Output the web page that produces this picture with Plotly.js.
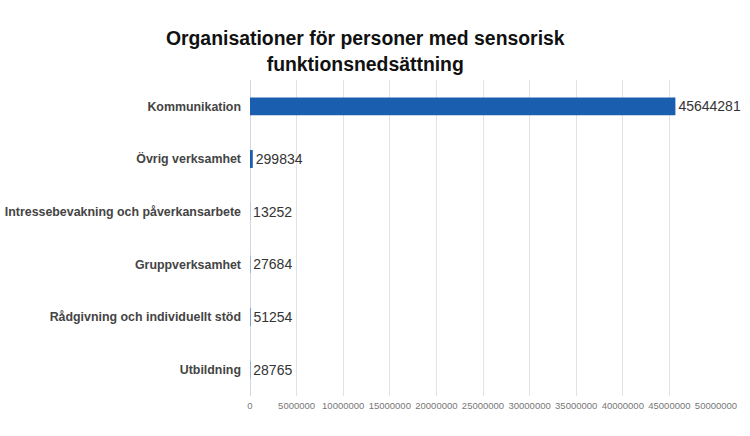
<!DOCTYPE html>
<html>
<head>
<meta charset="utf-8">
<script src="https://cdn.plot.ly/plotly-3.0.1.min.js"></script>
<style>html,body{margin:0;padding:0;background:#fff;}#chart{width:750px;height:436px;}</style>
</head>
<body>
<div id="chart"></div>
<script>
const categories = ["Kommunikation", "Övrig verksamhet", "Intressebevakning och påverkansarbete", "Gruppverksamhet", "Rådgivning och individuellt stöd", "Utbildning"];
const values = [45644281, 299834, 13252, 27684, 51254, 28765];
const xTickValues = [0, 5000000, 10000000, 15000000, 20000000, 25000000, 30000000, 35000000, 40000000, 45000000, 50000000];

const trace = {
  type: "bar",
  orientation: "h",
  y: categories,
  x: values,
  text: values.map(v => String(v)),
  textposition: "outside",
  cliponaxis: false,
  textfont: {family: "Liberation Sans, Arial, sans-serif", size: 14, color: "#333333"},
  marker: {color: "#1a5eb0"},
  width: 0.34,
  hoverinfo: "none"
};

const layout = {
  width: 750,
  height: 436,
  margin: {l: 250, r: 34, t: 80, b: 40},
  paper_bgcolor: "#ffffff",
  plot_bgcolor: "#ffffff",
  showlegend: false,
  title: {
    text: "<b>Organisationer för personer med sensorisk<br>funktionsnedsättning</b>",
    font: {family: "Liberation Sans, Arial, sans-serif", size: 19.4, color: "#111111"},
    x: 0.487, xanchor: "center", y: 0.896, yanchor: "top"
  },
  xaxis: {
    range: [0, 50000000],
    tickvals: xTickValues,
    ticktext: xTickValues.map(v => String(v)),
    tickangle: 0,
    showgrid: true,
    gridcolor: "#e3e3e3",
    zeroline: true,
    zerolinecolor: "#d0d8e4",
    ticks: "",
    ticklabelstandoff: 2,
    tickfont: {family: "Liberation Sans, Arial, sans-serif", size: 9.5, color: "#777777"},
    fixedrange: true
  },
  yaxis: {
    autorange: "reversed",
    showgrid: false,
    zeroline: false,
    ticks: "",
    ticklabelstandoff: 8,
    tickfont: {family: "Liberation Sans, Arial, sans-serif", size: 12.4, color: "#444444", weight: "bold"},
    fixedrange: true
  }
};

Plotly.newPlot("chart", [trace], layout, {displayModeBar: false, staticPlot: true});
</script>
</body>
</html>
